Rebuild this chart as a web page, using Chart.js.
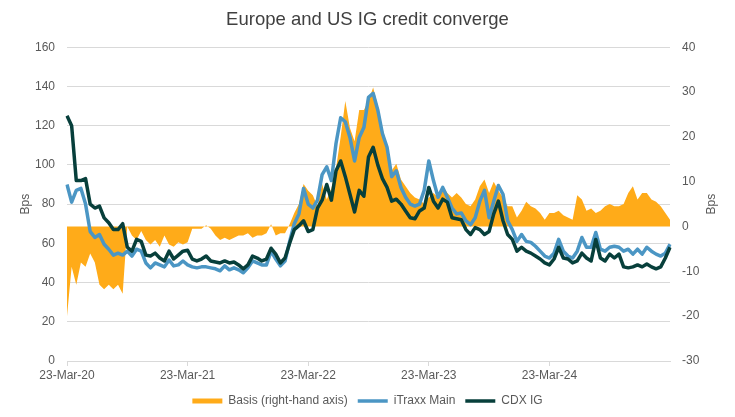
<!DOCTYPE html>
<html>
<head>
<meta charset="utf-8">
<script src="https://cdn.jsdelivr.net/npm/chart.js@4.4.1/dist/chart.umd.min.js"></script>
<style>
	html, body { margin: 0; padding: 0; background: #fff; }
	#wrap { width: 735px; height: 417px; }
</style>
</head>
<body>
<div id="wrap"><canvas id="chart"></canvas></div>
<script>
"use strict";

// fortnightly readings starting 23-Mar-20 (bps)
const itraxxMain = [
	90, 81, 87, 88, 80, 66, 63, 64.5, 59.5, 57,
	54, 55, 54, 56, 53.5, 57, 56, 50, 47.5, 50,
	49, 48, 51.5, 48.5, 49, 51, 49, 48, 47.5, 48,
	48, 47.5, 47, 46, 48.5, 46.5, 47.5, 46.5, 45, 47.5,
	51, 50, 49, 49, 56, 52, 48.5, 51, 61, 70,
	75, 88, 80, 78, 82, 95, 99, 92, 111, 124,
	122, 114, 102, 114, 119, 134.5, 136.5, 128, 116, 109,
	94, 97, 88.5, 83.5, 80, 79, 80, 87, 102, 92,
	83.5, 88.5, 83.5, 78, 75, 75.5, 71.5, 69.5, 73, 81.5,
	87, 73, 81.5, 89.5, 85, 71.5, 67, 61, 64.5, 61,
	60.5, 58.5, 56, 53.5, 52.5, 55, 62, 56, 53.5, 52.5,
	56, 63, 58, 58, 65.5, 57, 56, 58, 58.5, 58,
	56, 57, 54.5, 57, 54.5, 58, 56, 54.5, 53.5, 55,
	59.5,
];
const cdxIG = [
	125, 120, 92, 92, 93, 80, 78, 79, 73, 70.5,
	67, 67, 70, 58, 56, 62, 61, 54, 53.5, 55,
	52.5, 51, 56, 52, 54, 56, 56.5, 52, 51, 52,
	53.5, 51, 50.5, 50, 51, 50, 50.5, 49, 47, 49,
	53.5, 52.5, 51, 52, 57.5, 54.5, 50, 52.5, 60, 67,
	69, 71.5, 66, 67, 78, 82, 90, 82, 97, 102,
	94, 85, 76, 87, 84, 104, 109, 100, 93, 88.5,
	81.5, 82.5, 80, 76.5, 73, 72.5, 76.5, 78, 88.5, 81.5,
	78, 82.5, 81, 73, 72.5, 72, 67, 64.5, 68, 67,
	64.5, 66, 75, 81.5, 71.5, 64.5, 62, 56, 58, 56,
	55, 53.5, 52, 50, 49, 52, 58, 52.5, 52, 50,
	51, 55, 52.5, 51, 62, 52.5, 51, 54.5, 52.5, 54.5,
	48, 47.5, 48, 49, 48, 49.5, 48, 47, 48, 52.5,
	58,
];
// right-hand axis
const basis = [
	-20, -9, -13, -8, -9, -6, -8, -13, -14, -13,
	-14, -13, -15, 0, -2, -3, -1, -3, -4, -3,
	-4.5, -2, -4, -4.5, -3.5, -4, -3.5, -0.5, -0.5, -0.5,
	0.3, -0.5, -2, -3, -2.5, -3, -2.5, -2, -2, -1.5,
	-2.5, -2, -2, -1.5, 0.5, -2, -1.5, -1.5, 0.5, 3,
	5, 9.5, 8, 7, 4.5, 9.5, 6, 8.5, 13, 20,
	28, 22, 19, 26, 26, 28, 31, 27, 22, 18,
	12.5, 14, 10.5, 9, 7.5, 6.5, 6, 5, 6.5, 7.5,
	6.5, 9, 7.5, 6.5, 7.5, 6.5, 5, 4.5, 6, 9,
	10.5, 7.5, 10, 8, 6.5, 4.5, 4.5, 2, 3.5, 5.5,
	4.5, 4, 3, 1.5, 3, 3, 3.5, 2.5, 2, 1.5,
	7, 6, 3.5, 4, 3, 3.5, 4.5, 5, 4.5, 4.5,
	5, 7.5, 9, 6, 7.5, 7.5, 6, 5.5, 4.5, 3,
	1.5,
];
const tickLabels = ["23-Mar-20", "23-Mar-21", "23-Mar-22", "23-Mar-23", "23-Mar-24"];
const PER_YEAR = 26; // fortnights between tick labels

const labels = itraxxMain.map((_, i) => i);
const textColor = "#595959";
const gridColor = "#d9d9d9";
const font = { family: "'Liberation Sans', Arial, sans-serif", size: 12 };

// right axis title reads bottom-to-top like the left one
const rightTitle = {
	id: "rightTitle",
	afterDraw(chart) {
		const { ctx, chartArea } = chart;
		ctx.save();
		ctx.translate(chart.scales.y2.right - 23, (chartArea.top + chartArea.bottom) / 2);
		ctx.rotate(-Math.PI / 2);
		ctx.font = "12px 'Liberation Sans', Arial, sans-serif";
		ctx.fillStyle = textColor;
		ctx.textAlign = "center";
		ctx.textBaseline = "middle";
		ctx.fillText("Bps", 0, 0);
		ctx.restore();
	},
};

Chart.defaults.font.family = font.family;
Chart.defaults.color = textColor;

new Chart(document.getElementById("chart"), {
	type: "line",
	data: {
		labels,
		datasets: [
			{
				label: "Basis (right-hand axis)",
				data: basis,
				yAxisID: "y2",
				order: 3,
				fill: "origin",
				backgroundColor: "#ffab19",
				borderColor: "#ffab19",
				borderWidth: 0,
				pointRadius: 0,
				pointStyle: "rect",
			},
			{
				label: "iTraxx Main",
				data: itraxxMain,
				yAxisID: "y",
				order: 2,
				borderColor: "#4b96c4",
				backgroundColor: "#4b96c4",
				borderWidth: 3.5,
				pointRadius: 0,
				pointStyle: "line",
			},
			{
				label: "CDX IG",
				data: cdxIG,
				yAxisID: "y",
				order: 1,
				borderColor: "#073f3b",
				backgroundColor: "#073f3b",
				borderWidth: 3.5,
				pointRadius: 0,
				pointStyle: "line",
			},
		],
	},
	options: {
		responsive: true,
		maintainAspectRatio: false,
		animation: false,
		layout: { padding: 0 },
		elements: { line: { tension: 0, borderJoinStyle: "round" } },
		scales: {
			x: {
				offset: false,
				grid: { drawOnChartArea: false, drawTicks: true, tickLength: 5, color: gridColor },
				border: { display: true, color: gridColor },
				ticks: {
					autoSkip: false,
					maxRotation: 0,
					padding: 2,
					font,
					color: textColor,
					callback: (value) => tickLabels[value / PER_YEAR],
				},
				afterBuildTicks(scale) {
					scale.ticks = scale.ticks.filter(
						(t) => t.value % PER_YEAR === 0 && t.value / PER_YEAR < tickLabels.length,
					);
				},
				afterFit(scale) {
					scale.height = 24;
				},
			},
			y: {
				position: "left",
				min: 0,
				max: 160,
				grid: { color: gridColor, drawTicks: false },
				border: { display: false },
				ticks: { stepSize: 20, padding: 12, font, color: textColor },
				title: { display: true, text: "Bps", font, color: textColor, padding: { top: 18, bottom: 0 } },
				afterFit(scale) {
					scale.width = 67;
				},
			},
			y2: {
				position: "right",
				min: -30,
				max: 40,
				grid: { drawOnChartArea: false, drawTicks: false },
				border: { display: false },
				ticks: { stepSize: 10, padding: 12, font, color: textColor },
				afterFit(scale) {
					scale.width = 65;
				},
			},
		},
		plugins: {
			title: {
				display: true,
				text: "Europe and US IG credit converge",
				color: "#404040",
				font: { family: "'Liberation Sans', Arial, sans-serif", size: 18.5, weight: "normal" },
				padding: { top: 9, bottom: 16 },
			},
			legend: {
				position: "bottom",
				labels: {
					usePointStyle: true,
					pointStyleWidth: 30,
					boxHeight: 5,
					padding: 10,
					font,
					color: textColor,
					sort: (a, b) => a.datasetIndex - b.datasetIndex,
				},
			},
			tooltip: { enabled: false },
		},
	},
	plugins: [rightTitle],
});
</script>
</body>
</html>
